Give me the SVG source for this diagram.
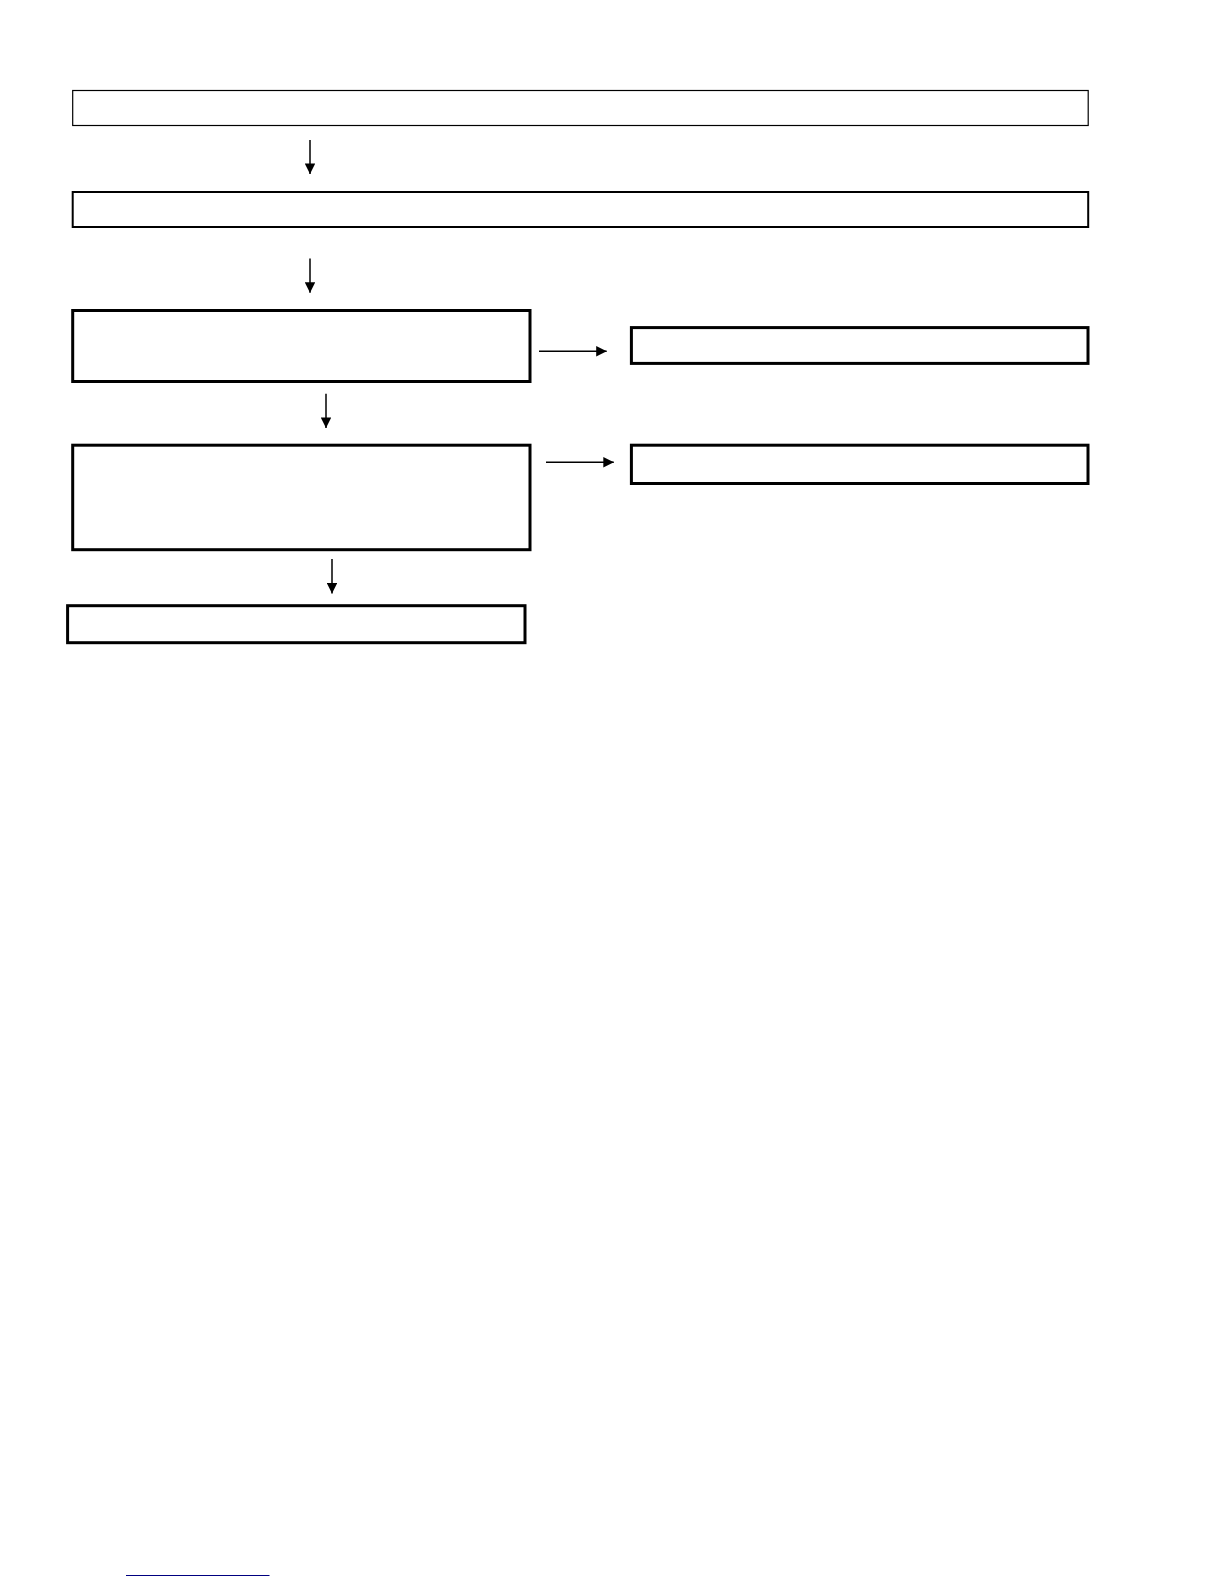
<svg xmlns="http://www.w3.org/2000/svg" width="1224" height="1584" viewBox="0 0 1224 1584">
<style>
.box{fill:#ffffff;stroke:#000000}
.conn{stroke:#000000;stroke-width:1.5;fill:none}
</style>
<defs>
<marker id="ah" viewBox="0 0 10 10" refX="10" refY="5" markerWidth="11" markerHeight="10.5" markerUnits="userSpaceOnUse" orient="auto">
<path d="M0,0 L10,5 L0,10 Z" fill="#000000"/>
</marker>
</defs>
<rect width="1224" height="1584" fill="#ffffff"/>
<g id="node1"><rect class="box" x="72.7" y="90.5" width="1015.5" height="35" stroke-width="1.2"/></g>
<g id="node2"><rect class="box" x="72.7" y="192" width="1015.5" height="35" stroke-width="2"/></g>
<g id="node3"><rect class="box" x="72.7" y="310.5" width="457.3" height="71" stroke-width="3"/></g>
<g id="node4"><rect class="box" x="631.4" y="327.6" width="456.6" height="35.8" stroke-width="3"/></g>
<g id="node5"><rect class="box" x="72.7" y="445.2" width="457.3" height="104.5" stroke-width="3"/></g>
<g id="node6"><rect class="box" x="631.4" y="445.2" width="456.6" height="38.3" stroke-width="3"/></g>
<g id="node7"><rect class="box" x="67.6" y="605.7" width="457.4" height="37" stroke-width="3"/></g>
<g id="connectors">
<line class="conn" x1="310" y1="140" x2="310" y2="174" marker-end="url(#ah)"/>
<line class="conn" x1="310" y1="258.5" x2="310" y2="292.8" marker-end="url(#ah)"/>
<line class="conn" x1="326" y1="393.7" x2="326" y2="428" marker-end="url(#ah)"/>
<line class="conn" x1="332" y1="559" x2="332" y2="593.6" marker-end="url(#ah)"/>
<line class="conn" x1="539" y1="351.3" x2="606.7" y2="351.3" marker-end="url(#ah)"/>
<line class="conn" x1="546" y1="462.3" x2="613.8" y2="462.3" marker-end="url(#ah)"/>
</g>
<line x1="126" y1="1575.5" x2="269.5" y2="1575.5" stroke="#000080" stroke-width="1.2"/>
</svg>
